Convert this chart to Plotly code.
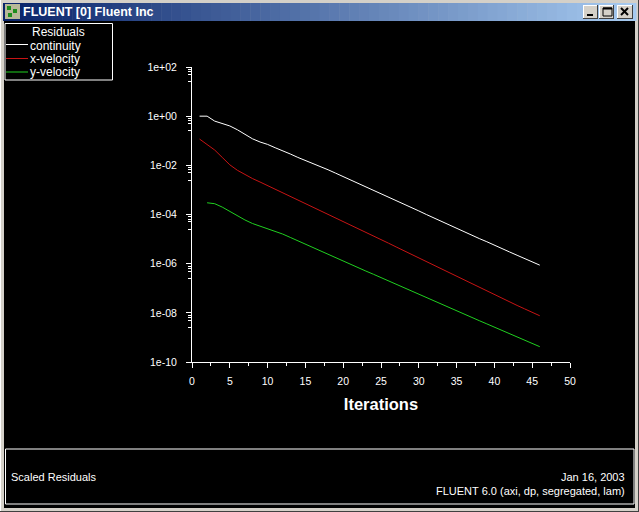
import plotly.graph_objects as go

# iteration numbers and scaled residuals
iterations = [1, 2, 3, 4, 5, 6, 7, 8, 9, 10, 11, 12, 13, 14, 15, 16, 17, 18, 19, 20, 21, 22, 23,
              24, 25, 26, 27, 28, 29, 30, 31, 32, 33, 34, 35, 36, 37, 38, 39, 40, 41, 42, 43, 44, 45, 46]

continuity = [1.0e+00, 1.0e+00, 6.3e-01, 5.0e-01, 4.0e-01, 2.8e-01, 1.8e-01, 1.2e-01, 8.9e-02, 7.1e-02,
              5.2e-02, 4.0e-02, 2.9e-02, 2.1e-02, 1.6e-02, 1.2e-02, 8.9e-03, 6.6e-03, 4.8e-03, 3.5e-03,
              2.5e-03, 1.8e-03, 1.3e-03, 9.5e-04, 6.9e-04, 5.0e-04, 3.6e-04, 2.6e-04, 1.9e-04, 1.4e-04,
              1.0e-04, 7.2e-05, 5.2e-05, 3.8e-05, 2.8e-05, 2.0e-05, 1.4e-05, 1.05e-05, 7.8e-06, 5.8e-06,
              4.2e-06, 3.0e-06, 2.2e-06, 1.6e-06, 1.2e-06, 8.7e-07]

x_velocity = [1.17e-01, 7.1e-02, 4.2e-02, 2.1e-02, 1.05e-02, 6.3e-03, 4.2e-03, 2.9e-03, 2.1e-03, 1.5e-03,
              1.07e-03, 7.8e-04, 5.6e-04, 4.1e-04, 2.95e-04, 2.1e-04, 1.48e-04, 1.07e-04, 7.6e-05, 5.4e-05,
              3.8e-05, 2.7e-05, 1.9e-05, 1.35e-05, 9.5e-06, 6.8e-06, 4.8e-06, 3.4e-06, 2.4e-06, 1.7e-06,
              1.2e-06, 8.5e-07, 6.0e-07, 4.3e-07, 3.0e-07, 2.1e-07, 1.5e-07, 1.1e-07, 7.8e-08, 5.5e-08,
              3.9e-08, 2.8e-08, 2.0e-08, 1.45e-08, 1.05e-08, 7.6e-09]

y_iterations = [2, 3, 4, 5, 6, 7, 8, 9, 10, 11, 12, 13, 14, 15, 16, 17, 18, 19, 20, 21, 22, 23, 24,
                25, 26, 27, 28, 29, 30, 31, 32, 33, 34, 35, 36, 37, 38, 39, 40, 41, 42, 43, 44, 45, 46]

y_velocity = [3.0e-04, 2.75e-04, 2.0e-04, 1.32e-04, 8.9e-05, 6.0e-05, 4.3e-05, 3.4e-05, 2.7e-05, 2.1e-05,
              1.6e-05, 1.17e-05, 8.5e-06, 6.0e-06, 4.4e-06, 3.2e-06, 2.4e-06, 1.74e-06, 1.29e-06, 9.3e-07,
              6.9e-07, 5.0e-07, 3.7e-07, 2.7e-07, 2.0e-07, 1.45e-07, 1.07e-07, 7.9e-08, 5.75e-08, 4.3e-08,
              3.1e-08, 2.3e-08, 1.66e-08, 1.23e-08, 8.9e-09, 6.6e-09, 4.8e-09, 3.55e-09, 2.6e-09, 1.95e-09,
              1.41e-09, 1.05e-09, 7.8e-10, 5.6e-10, 4.2e-10]

y_tickvals = [1e2, 1e0, 1e-2, 1e-4, 1e-6, 1e-8, 1e-10]
y_ticktext = ["1e+02", "1e+00", "1e-02", "1e-04", "1e-06", "1e-08", "1e-10"]

W, H = 639, 512
# plot area in window pixels
L, R, T, B = 192, 570, 67, 362
FONT = "Liberation Sans, Arial, sans-serif"
WHITE = "#ffffff"
RED = "#c81414"
GREEN = "#20d020"


def px(x):
    return (x - L) / (R - L)


def py(y):
    return (B - y) / (B - T)


fig = go.Figure()
fig.add_trace(go.Scatter(x=iterations, y=continuity, mode="lines", name="continuity",
                         line=dict(color=WHITE, width=1)))
fig.add_trace(go.Scatter(x=iterations, y=x_velocity, mode="lines", name="x-velocity",
                         line=dict(color=RED, width=1)))
fig.add_trace(go.Scatter(x=y_iterations, y=y_velocity, mode="lines", name="y-velocity",
                         line=dict(color=GREEN, width=1)))

shapes = []
annots = []


def rect(x0, y0, x1, y1, fill=None, line=None, lw=1, layer="above"):
    shapes.append(dict(type="rect", xref="paper", yref="paper", layer=layer,
                       x0=px(x0), x1=px(x1), y0=py(y0), y1=py(y1),
                       fillcolor=fill if fill else "rgba(0,0,0,0)",
                       line=dict(color=line if line else "rgba(0,0,0,0)", width=lw if line else 0)))


def seg(x0, y0, x1, y1, color, lw=1):
    shapes.append(dict(type="line", xref="paper", yref="paper",
                       x0=px(x0), x1=px(x1), y0=py(y0), y1=py(y1),
                       line=dict(color=color, width=lw)))


def text(x, y, s, size=11, xanchor="left", bold=False, color=WHITE):
    annots.append(dict(xref="paper", yref="paper", x=px(x), y=py(y), text=f"<b>{s}</b>" if bold else s,
                       showarrow=False, xanchor=xanchor, yanchor="middle", borderpad=0,
                       font=dict(family=FONT, size=size, color=color)))


# window client area
rect(4, 21, 635, 508, fill="#000000", layer="below")
seg(0.5, 0, 0.5, 512, "#ffffff")
seg(638.5, 0, 638.5, 512, "#404040")
seg(0, 511.5, 639, 511.5, "#404040")

# title bar gradient
c0 = (10, 36, 106)
c1 = (166, 202, 240)
n = 64
for i in range(n):
    t = i / (n - 1)
    col = "rgb({},{},{})".format(*[int(a + (b - a) * t) for a, b in zip(c0, c1)])
    xa = 3 + (636 - 3) * i / n
    xb = 3 + (636 - 3) * (i + 1) / n + 0.5
    rect(xa, 3, xb, 21, fill=col)
text(22, 12.5, "FLUENT [0] Fluent Inc", size=12.5, bold=True)

# title bar icon
rect(5, 4, 20, 19, fill="#b8b898")
rect(7, 6, 11, 10, fill="#1e8c1e")
rect(13, 9, 17, 13, fill="#1e8c1e")
rect(8, 13, 12, 17, fill="#1e8c1e")

# min / max / close buttons
for bx0, bx1 in [(583, 598), (599, 614), (617, 633)]:
    rect(bx0, 5, bx1, 19, fill="#d4d0c8")
    seg(bx0, 5.5, bx1, 5.5, "#ffffff")
    seg(bx0 + 0.5, 5, bx0 + 0.5, 19, "#ffffff")
    seg(bx0, 18.5, bx1, 18.5, "#404040")
    seg(bx1 - 0.5, 5, bx1 - 0.5, 19, "#404040")
rect(587, 14, 593, 16, fill="#000000")
rect(603, 8, 612, 16, line="#000000")
seg(603, 8.5, 612, 8.5, "#000000", 2)
seg(621, 8, 628, 15, "#000000", 2)
seg(621, 15, 628, 8, "#000000", 2)

# legend box
rect(5, 23.5, 112.5, 80, line=WHITE)
text(58.5, 32.5, "Residuals", size=12, xanchor="center")
for yy, ly, name, col in [(46, 44.5, "continuity", WHITE), (59, 58.5, "x-velocity", RED),
                          (72, 72, "y-velocity", GREEN)]:
    seg(6, ly, 28, ly, col)
    text(29, yy, name, size=12)

# bottom info box
rect(5.5, 449, 634, 504, line=WHITE)
text(10, 477, "Scaled Residuals", size=11)
text(626, 477, "Jan 16, 2003", size=11, xanchor="right")
text(626, 491, "FLUENT 6.0 (axi, dp, segregated, lam)", size=11, xanchor="right")

minor_vals = [v * f for v in y_tickvals for f in (0.8, 0.65, 0.5, 0.25)]

fig.update_layout(
    width=W, height=H,
    margin=dict(l=L, r=W - R, t=T, b=H - B, pad=0),
    paper_bgcolor="#d4d0c8", plot_bgcolor="#000000",
    showlegend=False,
    shapes=shapes, annotations=annots,
    font=dict(family=FONT, color=WHITE, size=10),
)
fig.update_xaxes(
    range=[0, 50], dtick=5, tick0=0, showgrid=False, zeroline=False,
    showline=True, linecolor=WHITE, linewidth=1,
    ticks="outside", ticklen=5, tickcolor=WHITE, tickwidth=1,
    minor=dict(dtick=2.5, ticks="outside", ticklen=3, tickcolor=WHITE),
    tickfont=dict(family=FONT, size=10.5, color=WHITE), ticklabelstandoff=4,
    title=dict(text="<b>Iterations</b>", font=dict(family=FONT, size=16.5, color=WHITE), standoff=12),
)
fig.update_yaxes(
    type="log", range=[-10, 2], showgrid=False, zeroline=False,
    showline=True, linecolor=WHITE, linewidth=1,
    tickvals=y_tickvals, ticktext=y_ticktext,
    ticks="outside", ticklen=5, tickcolor=WHITE, tickwidth=1,
    minor=dict(tickvals=minor_vals, ticks="outside", ticklen=3, tickcolor=WHITE),
    tickfont=dict(family=FONT, size=10.5, color=WHITE), ticklabelstandoff=7,
)

fig.write_html("out.html", config=dict(displayModeBar=False),
               post_script="document.body.style.margin='0';document.body.style.overflow='hidden';")
